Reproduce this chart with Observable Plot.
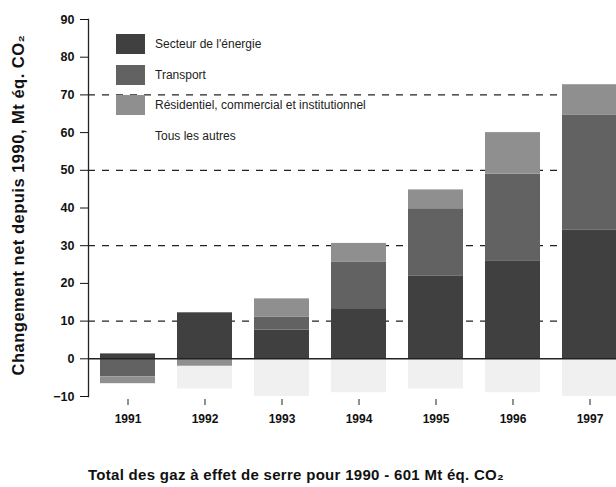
<!DOCTYPE html>
<html>
<head>
<meta charset="utf-8">
<script src="https://cdn.jsdelivr.net/npm/d3@7"></script>
<script src="https://cdn.jsdelivr.net/npm/@observablehq/plot@0.6"></script>
<style>
  html, body { margin: 0; padding: 0; background: #fff; }
  #wrap { position: relative; width: 616px; height: 487px; font-family: "Liberation Sans", Arial, sans-serif; overflow: hidden; }
  #legend { position: absolute; left: 116px; top: 34px; font-size: 12px; color: #222; }
  .row { position: absolute; left: 0; height: 20px; display: flex; align-items: center; white-space: nowrap; }
  .sw { width: 29px; height: 20px; margin-right: 10px; }
  #caption { position: absolute; left: 0; top: 466px; width: 616px; text-align: center; font-weight: bold; font-size: 15px; letter-spacing: 0.3px; color: #111; padding-right: 24px; box-sizing: border-box; }
  #ylabel { position: absolute; left: 18px; top: 205px; transform: translate(-50%, -50%) rotate(-90deg); white-space: nowrap; font-weight: bold; font-size: 16.5px; letter-spacing: 0.5px; color: #111; }
</style>
</head>
<body>
<div id="wrap">
  <div id="chart"></div>
  <div id="legend"></div>
  <div id="ylabel">Changement net depuis 1990, Mt éq. CO₂</div>
  <div id="caption">Total des gaz à effet de serre pour 1990 - 601 Mt éq. CO₂</div>
</div>
<script>
const years = ["1991", "1992", "1993", "1994", "1995", "1996", "1997"];
const series = ["Secteur de l'énergie", "Transport", "Résidentiel, commercial et institutionnel", "Tous les autres"];
const colors = ["#404040", "#626262", "#8f8f8f", "#f0f0f0"];
const energie     = [1.3, 12.2, 7.6, 13.3, 22.0, 26.0, 34.2];
const transport   = [-4.8, 0, 3.4, 12.4, 17.8, 23.0, 30.5];
const residentiel = [-1.8, -2.0, 4.9, 4.9, 5.0, 11.0, 8.0];
const autres      = [0, -6.0, -10.0, -9.0, -8.0, -9.0, -10.0];
const yTicks = [-10, 0, 10, 20, 30, 40, 50, 60, 70, 80, 90];
const dashedAt = [10, 30, 50, 70];

const valuesBySeries = [energie, transport, residentiel, autres];
const data = [];
series.forEach((s, si) => years.forEach((y, yi) => data.push({year: y, series: s, value: valuesBySeries[si][yi]})));

const chart = Plot.plot({
  width: 616,
  height: 440,
  marginTop: 19,
  marginBottom: 44,
  marginLeft: 88,
  marginRight: 0,
  style: {fontFamily: "'Liberation Sans', Arial, sans-serif", color: "#111", background: "#fff"},
  x: {domain: years, range: [88, 629], padding: 0.28, paddingOuter: 0.14},
  y: {domain: [-10, 90]},
  color: {domain: series, range: colors},
  marks: [
    Plot.ruleY(dashedAt, {stroke: "#222", strokeWidth: 1.3, strokeDasharray: "7,7"}),
    Plot.barY(data, Plot.stackY({order: series}, {x: "year", y: "value", fill: "series", order: series})),
    Plot.ruleY([0], {stroke: "#222", strokeWidth: 1.5}),
    Plot.axisY({ticks: yTicks, tickSize: 8, tickPadding: 6, fontSize: 12.5, fontWeight: "bold", label: null}),
    Plot.frame({anchor: "left", stroke: "#222", strokeWidth: 1.3}),
    Plot.axisX({tickSize: 6, dy: 3, tickPadding: 9, fontSize: 12, fontWeight: "bold", label: null, stroke: "#222"})
  ]
});
document.getElementById("chart").appendChild(chart);

const legend = document.getElementById("legend");
const tops = [0, 31, 61, 92];
series.forEach((s, i) => {
  const row = document.createElement("div");
  row.className = "row";
  row.style.top = tops[i] + "px";
  const sw = document.createElement("div");
  sw.className = "sw";
  sw.style.background = i === 3 ? "transparent" : colors[i];
  row.appendChild(sw);
  const t = document.createElement("span");
  t.textContent = s;
  row.appendChild(t);
  legend.appendChild(row);
});
</script>
</body>
</html>
